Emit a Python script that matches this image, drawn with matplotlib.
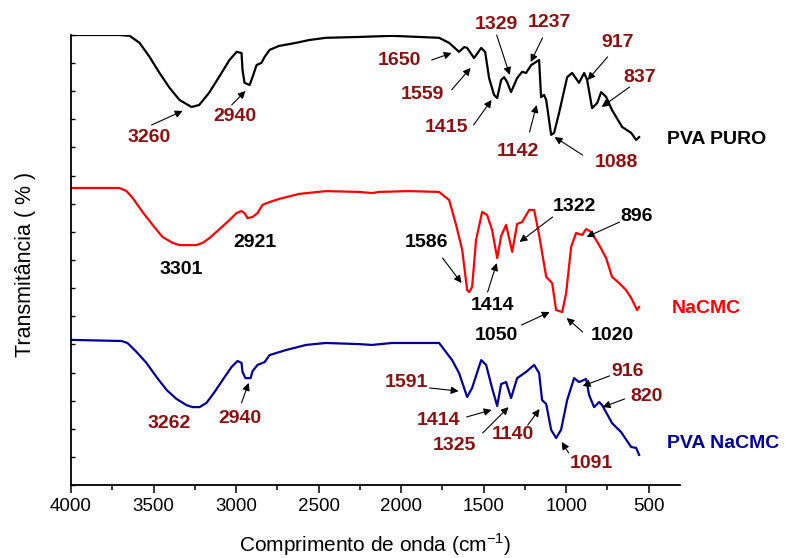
import matplotlib
matplotlib.use("Agg")
import matplotlib.pyplot as plt
import numpy as np
from matplotlib.ticker import MultipleLocator

plt.rcParams['font.family'] = ['Liberation Sans', 'DejaVu Sans']
plt.rcParams['mathtext.fontset'] = 'custom'
plt.rcParams['mathtext.rm'] = 'Liberation Sans'

# PVA puro (wavenumber cm-1, transmittance)
pva_wn = [4000, 3706, 3645, 3585, 3524, 3464, 3403, 3343, 3270, 3224, 3164, 3103, 3040, 2997,
          2967, 2961, 2949, 2918, 2900, 2876, 2846, 2827, 2797, 2740, 2637, 2558, 2455, 2255,
          2055, 1770, 1709, 1649, 1618, 1600, 1558, 1515, 1491, 1467, 1437, 1418, 1394, 1376,
          1358, 1334, 1297, 1267, 1243, 1212, 1164, 1152, 1134, 1121, 1091, 1073, 1043, 994,
          964, 922, 891, 873, 843, 812, 788, 758, 722, 661, 606, 576, 558]
pva_t = [160, 160, 159.7, 157.2, 152.2, 146.5, 141.2, 136.9, 134.4, 135.1, 139.4, 145.1, 151.1, 154,
         153.6, 147.6, 143, 142.2, 145.1, 149.3, 150.1, 152.2, 154.7, 156.1, 157.2, 158.2, 159, 159.3,
         159.7, 159, 157.2, 154, 155.7, 155.4, 151.8, 155.4, 154, 144.7, 138.7, 137.6, 144, 145,
         143.3, 139.7, 144.7, 146.9, 146.5, 149.3, 151.1, 137.9, 138.7, 136.9, 124.5, 125.2, 132.3, 145,
         146.5, 143, 146.5, 144, 134, 135.8, 139.7, 138, 133.3, 127.3, 125.2, 122.7, 123.7]

# NaCMC
cmc_wn = [4000, 3706, 3664, 3627, 3567, 3506, 3446, 3385, 3343, 3240, 3203, 3161, 3100, 3040,
          2997, 2967, 2949, 2931, 2900, 2870, 2840, 2797, 2740, 2618, 2455, 2255, 2176, 2134,
          1952, 1770, 1709, 1667, 1630, 1600, 1588, 1570, 1546, 1509, 1479, 1449, 1418, 1394,
          1364, 1327, 1297, 1267, 1224, 1194, 1164, 1121, 1085, 1061, 1024, 1000, 970, 940,
          903, 879, 849, 800, 758, 722, 679, 637, 606, 570, 558]
cmc_t = [105.6, 105.6, 104.5, 102.1, 97.1, 92.5, 88.2, 86.1, 85.3, 85.3, 86.1, 87.8, 91, 94.2,
         96.7, 97.4, 96.7, 94.9, 95.3, 96.7, 99.6, 100.6, 101.7, 103.5, 104.5, 104.2, 103.8, 104.2,
         104.5, 104.2, 101.3, 92.5, 83.6, 69.3, 68.6, 70.4, 87.1, 97.1, 96, 90.7, 80.7, 88.5,
         92.5, 82.9, 92.8, 93.5, 97.8, 97.8, 88.9, 74, 71.8, 62.2, 61.5, 68.3, 84.6, 89.6,
         88.9, 91, 90, 85.3, 80.7, 74, 71.8, 69.3, 66.5, 62.2, 63.3]

# PVA NaCMC
mix_wn = [4000, 3694, 3658, 3603, 3543, 3482, 3421, 3361, 3300, 3264, 3221, 3179, 3130, 3082,
          3027, 2991, 2967, 2961, 2943, 2912, 2900, 2870, 2827, 2797, 2697, 2576, 2455, 2255,
          2176, 2055, 1770, 1691, 1649, 1600, 1570, 1515, 1485, 1449, 1418, 1394, 1364, 1334,
          1297, 1243, 1194, 1164, 1146, 1121, 1091, 1061, 1031, 994, 952, 922, 879, 861, 831,
          800, 782, 722, 667, 606, 576, 558]
mix_t = [51.6, 51.2, 50.5, 47.3, 43.4, 38.4, 33.8, 30.6, 28.4, 27.7, 27.7, 29.2, 33.1, 37.3,
         42, 44.1, 43.4, 40.2, 38, 38, 40.5, 42.7, 43.7, 46.2, 48, 49.8, 50.5, 50.1,
         49.8, 50.5, 50.5, 44.4, 39.8, 31.3, 34.5, 44.4, 42.7, 34.5, 28.1, 35.9, 36.6, 30.9,
         38, 40.2, 42.7, 39.8, 30.2, 28.8, 19.6, 16.7, 19.6, 30.2, 38, 36.6, 37.7, 32, 27.7,
         29.5, 28.4, 22, 18.8, 13.5, 13.2, 10.7]

# peak labels: text, text pos, arrow tail, arrow tip (all in data units)
dred = '#8b1010'
pva_labels = [
    ('3260', (3524, 123.4), (3512, 128), (3324, 133)),
    ('2940', (3009, 130.9), (3027, 135.1), (2943, 140.1)),
    ('1650', (2009, 151.1), (1815, 151.1), (1694, 153.6)),
    ('1559', (1870, 138.7), (1694, 140.5), (1579, 148.3)),
    ('1415', (1724, 127), (1561, 128), (1452, 136.9)),
    ('1329', (1421, 163.6), (1421, 160), (1342, 145.8)),
    ('1237', (1100, 164.3), (1143, 159), (1215, 150.4)),
    ('1142', (1295, 118.4), (1222, 125.5), (1179, 135.1)),
    ('1088', (694, 114.5), (900, 117.3), (1070, 123.7)),
    ('917', (688, 157.5), (749, 152.2), (870, 144)),
    ('837', (555, 145), (616, 141.5), (785, 134.4)),
]
cmc_labels = [
    ('3301', (3330, 76.8), None, None),
    ('2921', (2888, 86.1), None, None),
    ('1586', (1846, 86.1), (1749, 80.7), (1634, 71.8)),
    ('1414', (1446, 64), (1476, 68.6), (1421, 78.9)),
    ('1322', (949, 98.9), (1082, 95.3), (1282, 86.4)),
    ('896', (573, 95.3), (676, 93.5), (876, 88.2)),
    ('1050', (1421, 53.3), (1270, 56.9), (1100, 61.5)),
    ('1020', (719, 53.3), (900, 54.4), (997, 59.4)),
]
mix_labels = [
    ('3262', (3403, 22), None, None),
    ('2940', (2979, 23.8), (2967, 29.2), (2924, 36.3)),
    ('1591', (1967, 36.3), (1828, 34.5), (1652, 33.4)),
    ('1414', (1773, 23.1), (1603, 24.2), (1452, 26.7)),
    ('1325', (1676, 13.9), (1506, 18.5), (1349, 27.7)),
    ('1140', (1324, 17.8), (1233, 21.3), (1161, 27)),
    ('916', (627, 40.2), (737, 38.8), (900, 35.2)),
    ('820', (512, 31.3), (646, 30.6), (779, 27.7)),
    ('1091', (846, 7.8), (985, 11.4), (1027, 15.3)),
]

fig = plt.figure(figsize=(7.85, 5.58), dpi=100)
ax = fig.add_axes([0.0905, 0.1308, 0.7758, 0.8065])

ax.plot(pva_wn, pva_t, color='black', lw=1.6)
ax.plot(cmc_wn, cmc_t, color='#ff0000', lw=1.6)
ax.plot(mix_wn, mix_t, color='#000099', lw=1.6)

def put_labels(items, color):
    for txt, pos, tail, tip in items:
        ax.text(pos[0], pos[1], txt, color=color, fontsize=14, fontweight='bold',
                ha='center', va='center')
        if tip is not None:
            ax.annotate('', xy=tip, xytext=tail,
                        arrowprops=dict(arrowstyle='-|>', color='black', lw=0.8,
                                        mutation_scale=11, shrinkA=0, shrinkB=0))

put_labels(pva_labels, dred)
put_labels(cmc_labels, 'black')
put_labels(mix_labels, dred)

ax.text(88, 122.7, 'PVA PURO', color='black', fontsize=14, fontweight='bold', ha='center', va='center')
ax.text(149, 62.9, 'NaCMC', color='#ff0000', fontsize=14, fontweight='bold', ha='center', va='center')
ax.text(52, 14.9, 'PVA NaCMC', color='#000099', fontsize=14, fontweight='bold', ha='center', va='center')

ax.set_xlim(4000, 310)
ax.set_ylim(0, 160)
ax.spines['top'].set_visible(False)
ax.spines['right'].set_visible(False)
ax.spines['left'].set_linewidth(1.3)
ax.spines['bottom'].set_linewidth(1.3)

ax.xaxis.set_major_locator(MultipleLocator(500))
ax.xaxis.set_minor_locator(MultipleLocator(250))
ax.tick_params(axis='x', which='major', direction='out', length=6, width=1.1, labelsize=13.5, pad=3)
ax.tick_params(axis='x', which='minor', direction='out', length=3.5, width=1.1)
ax.yaxis.set_major_locator(MultipleLocator(10))
ax.tick_params(axis='y', which='major', direction='in', length=3, width=1.0, labelleft=False)

ax.set_xlabel('Comprimento de onda (cm$^{-1}$)', fontsize=15, labelpad=12)
ax.set_ylabel('Transmitância ( % )', fontsize=15.5)
ax.yaxis.set_label_coords(-0.058, 0.49)

fig.savefig('out.png', dpi=100)
